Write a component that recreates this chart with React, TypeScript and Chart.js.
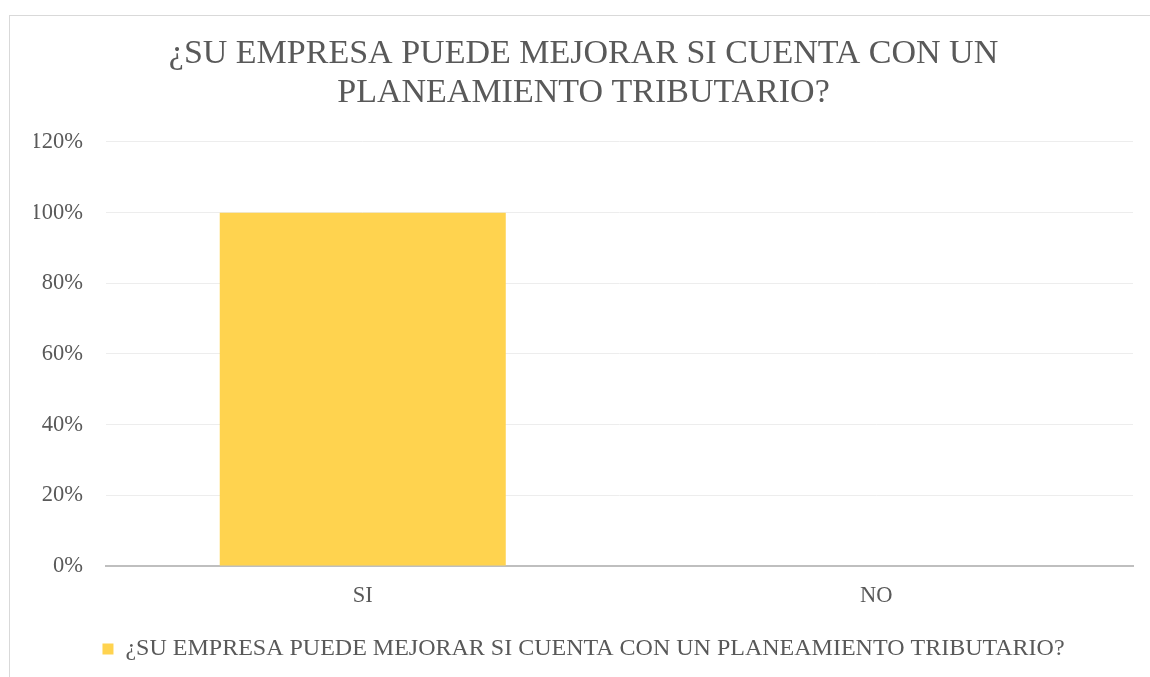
import React, { useEffect, useRef } from "react";
import { Chart, registerables } from "chart.js";

Chart.register(...registerables);

const categories = ["SI", "NO"];
const seriesLabel = "¿SU EMPRESA PUEDE MEJORAR SI CUENTA CON UN PLANEAMIENTO TRIBUTARIO?";
const seriesValues = [1.0, 0.0];
const titleLines = ["¿SU EMPRESA PUEDE MEJORAR SI CUENTA CON UN", "PLANEAMIENTO TRIBUTARIO?"];
const yMax = 1.2;
const yStep = 0.2;

const FONT = "'Liberation Serif', 'Times New Roman', serif";
const TEXT = "#595959";

export default function App() {
  const ref = useRef<HTMLCanvasElement | null>(null);
  useEffect(() => {
    if (!ref.current) return;
    const chart = new Chart(ref.current, {
      type: "bar",
      data: {
        labels: categories,
        datasets: [
          {
            label: seriesLabel,
            data: seriesValues,
            backgroundColor: "#FFD34F",
            borderWidth: 0,
            barPercentage: 0.557,
            categoryPercentage: 1,
          },
        ],
      },
      options: {
        responsive: false,
        animation: false,
        devicePixelRatio: 1,
        layout: { padding: { left: 24, right: 17, top: 0, bottom: 6 } },
        plugins: {
          tooltip: { enabled: false },
          title: {
            display: true,
            text: titleLines,
            color: TEXT,
            font: { family: FONT, size: 34, weight: "normal", lineHeight: 1.147 },
            padding: { top: 18.5, bottom: 29.5 },
          },
          legend: {
            display: true,
            position: "bottom",
            labels: {
              color: TEXT,
              font: { family: FONT, size: 24 },
              boxWidth: 11,
              boxHeight: 11,
              padding: 10,
            },
          },
        },
        scales: {
          x: {
            grid: { display: false, drawTicks: false },
            border: { display: true, color: "#BFBFBF", width: 2 },
            ticks: {
              color: TEXT,
              font: { family: FONT, size: 22.5 },
              padding: 17,
            },
            afterFit: (s: any) => {
              s.height = 61;
            },
          },
          y: {
            min: 0,
            max: yMax,
            grid: { color: "#EDEDED", lineWidth: 1, drawTicks: false },
            border: { display: false },
            ticks: {
              stepSize: yStep,
              color: TEXT,
              font: { family: FONT, size: 22.5 },
              padding: 23,
              callback: (v: any) => `${Math.round(Number(v) * 100)}%`,
            },
            afterFit: (s: any) => {
              s.width = 72;
            },
          },
        },
      },
    });
    return () => chart.destroy();
  }, []);
  return (
    <div
      style={{
        position: "fixed",
        left: 9,
        top: 15,
        width: 1141,
        height: 662,
        borderLeft: "1px solid #d9d9d9",
        borderTop: "1px solid #d9d9d9",
        background: "#fff",
        overflow: "hidden",
      }}
    >
      <canvas ref={ref} width={1140} height={661} style={{ display: "block" }} />
    </div>
  );
}
